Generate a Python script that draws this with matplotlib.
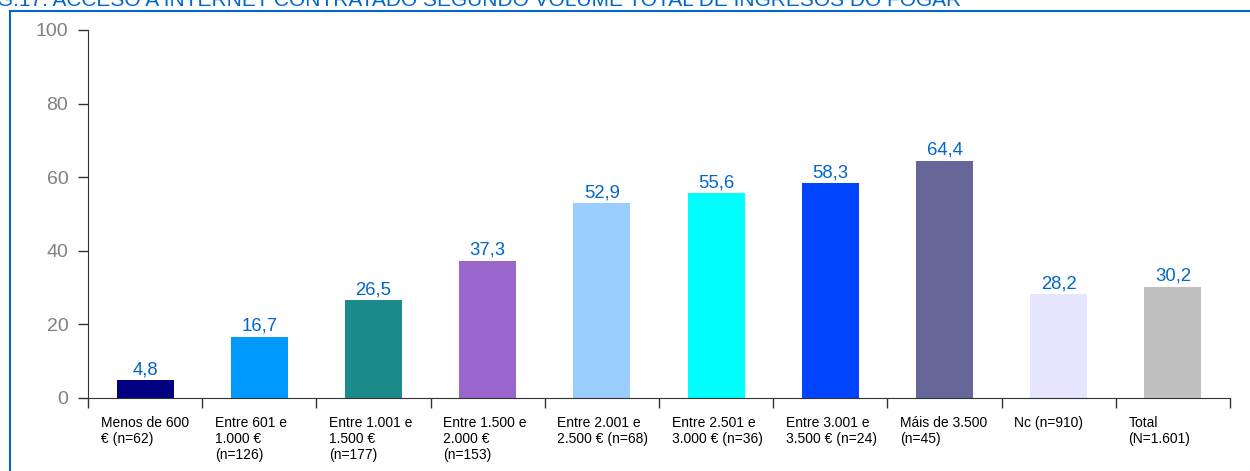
import matplotlib.pyplot as plt
import matplotlib.transforms as mtransforms
from matplotlib.lines import Line2D

plt.rcParams["font.family"] = ["Liberation Sans", "DejaVu Sans"]

TITLE = "G.17. ACCESO A INTERNET CONTRATADO SEGUNDO VOLUME TOTAL DE INGRESOS DO FOGAR"

categories = [
    "Menos de 600\n€ (n=62)",
    "Entre 601 e\n1.000 €\n(n=126)",
    "Entre 1.001 e\n1.500 €\n(n=177)",
    "Entre 1.500 e\n2.000 €\n(n=153)",
    "Entre 2.001 e\n2.500 € (n=68)",
    "Entre 2.501 e\n3.000 € (n=36)",
    "Entre 3.001 e\n3.500 € (n=24)",
    "Máis de 3.500\n(n=45)",
    "Nc (n=910)",
    "Total\n(N=1.601)",
]
values = [4.8, 16.7, 26.5, 37.3, 52.9, 55.6, 58.3, 64.4, 28.2, 30.2]
bar_colors = [
    "#000080", "#0099FF", "#1A8A8A", "#9966CC", "#99CCFF",
    "#00FFFF", "#0044FF", "#666699", "#E5E5FF", "#C0C0C0",
]

W, H = 1250, 471
fig = plt.figure(figsize=(W / 100, H / 100), dpi=100)
ax = fig.add_axes([88 / W, 1 - 398 / H, (1230 - 88) / W, (398 - 30) / H])

x = list(range(len(values)))
ax.bar(x, values, width=0.5, color=bar_colors)

for xi, v in zip(x, values):
    ax.annotate(f"{v:.1f}".replace(".", ","), (xi, v), xytext=(0, 1.5),
                textcoords="offset points", ha="center", va="bottom",
                fontsize=13.3, color="#0066CC")

ax.set_xlim(-0.5, len(values) - 0.5)
ax.set_ylim(0, 100)
ax.set_yticks([0, 20, 40, 60, 80, 100])
ax.tick_params(axis="y", direction="out", length=7.2, width=1, colors="#333333",
               labelcolor="#808080", labelsize=14, pad=7)

# boundary ticks between categories, labels placed separately
ax.set_xticks([i - 0.5 for i in range(len(values) + 1)])
ax.set_xticklabels([])
ax.tick_params(axis="x", direction="out", length=7.2, width=1, colors="#333333")

trans = mtransforms.blended_transform_factory(ax.transData, ax.transAxes)
for xi, lab in zip(x, categories):
    ax.text(xi - 0.39, -0.05, lab, transform=trans, ha="left", va="top",
            fontsize=10, color="black", linespacing=1.15)

for s in ["top", "right"]:
    ax.spines[s].set_visible(False)
for s in ["left", "bottom"]:
    ax.spines[s].set_color("#333333")

# frame and title, partly cut off at the top as in the source
fig.add_artist(Line2D([10 / W, 1], [1 - 10.5 / H, 1 - 10.5 / H], transform=fig.transFigure,
                      color="#0066CC", lw=1.5))
fig.add_artist(Line2D([10 / W, 10 / W], [0, 1 - 10.5 / H], transform=fig.transFigure,
                      color="#0066CC", lw=1.5))
fig.text(-3 / W, 1 - 5.5 / H, TITLE, ha="left", va="baseline", fontsize=15,
         color="#0066CC")

fig.savefig("out.png", dpi=100)
